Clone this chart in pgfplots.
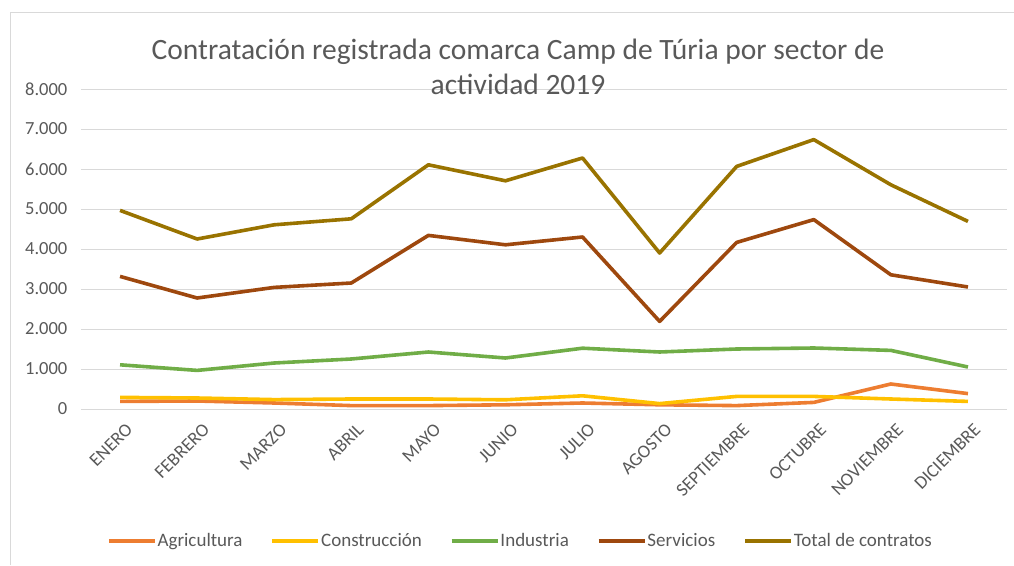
\documentclass[border=0pt]{standalone}
\usepackage{pgfplots}
\pgfplotsset{compat=1.18}
\usepackage{fontspec}
\setmainfont{Carlito}

\definecolor{txt}{HTML}{595959}
\definecolor{gridc}{HTML}{D9D9D9}
\definecolor{agri}{HTML}{ED7D31}
\definecolor{cons}{HTML}{FFC000}
\definecolor{indu}{HTML}{70AD47}
\definecolor{serv}{HTML}{9E480E}
\definecolor{total}{HTML}{997300}

\begin{document}
\begin{tikzpicture}
\path[use as bounding box] (0,0) rectangle (1014pt,565pt);
% chart frame (only top and left edges visible)
\draw[gridc, line width=1pt] (10pt,0) -- (10pt,552pt) -- (1014pt,552pt);

\begin{axis}[
    at={(81.5pt,156pt)}, anchor=south west,
    scale only axis,
    width=925pt, height=320pt,
    xmin=-0.5, xmax=11.5,
    ymin=0, ymax=8000,
    xtick={0,...,11},
    xticklabels={ENERO,FEBRERO,MARZO,ABRIL,MAYO,JUNIO,JULIO,AGOSTO,SEPTIEMBRE,OCTUBRE,NOVIEMBRE,DICIEMBRE},
    ytick={0,1000,...,8000},
    ymajorgrids=true,
    grid style={gridc, line width=1pt},
    axis line style={draw=none},
    major tick length=0pt,
    /pgf/number format/.cd, 1000 sep={.}, assume math mode=true, /pgfplots/.cd,
    scaled y ticks=false,
    tick label style={font=\fontsize{18.5}{20}\selectfont, text=txt},
    yticklabel style={anchor=east, xshift=-14pt, inner sep=0pt},
    xticklabel style={xshift=5pt, yshift=-13pt, rotate=45, anchor=north east, inner sep=0pt},
    every axis plot/.append style={line width=3.6pt, mark=none, line join=round},
    legend columns=5,
    legend style={at={(0.474,-0.4125)}, anchor=center, draw=none, fill=none,
        font=\fontsize{19}{21}\selectfont, text=txt,
        nodes={inner sep=1pt},
        /tikz/every even column/.append style={column sep=27pt}},
    legend image code/.code={\draw[#1, line width=3.6pt] (0pt,0pt) -- (46pt,0pt);},
]

\addplot[agri] coordinates {
(0,190)(1,200)(2,150)(3,85)(4,85)(5,105)(6,150)(7,105)(8,85)(9,165)(10,625)(11,385)
};
\addplot[cons] coordinates {
(0,290)(1,275)(2,235)(3,250)(4,250)(5,230)(6,330)(7,135)(8,315)(9,315)(10,250)(11,190)
};
\addplot[indu] coordinates {
(0,1105)(1,965)(2,1150)(3,1250)(4,1425)(5,1275)(6,1520)(7,1425)(8,1500)(9,1525)(10,1465)(11,1050)
};
\addplot[serv] coordinates {
(0,3315)(1,2775)(2,3040)(3,3150)(4,4340)(5,4105)(6,4300)(7,2190)(8,4165)(9,4735)(10,3355)(11,3050)
};
\addplot[total] coordinates {
(0,4965)(1,4250)(2,4605)(3,4755)(4,6105)(5,5705)(6,6275)(7,3900)(8,6065)(9,6735)(10,5605)(11,4690)
};
\legend{Agricultura,Construcción,Industria,Servicios,Total de contratos}
\end{axis}

\node[align=center, text=txt, font=\fontsize{29.5}{35}\selectfont] at (518pt,498pt)
  {Contratación registrada comarca Camp de Túria por sector de\\actividad 2019};
\end{tikzpicture}
\end{document}
